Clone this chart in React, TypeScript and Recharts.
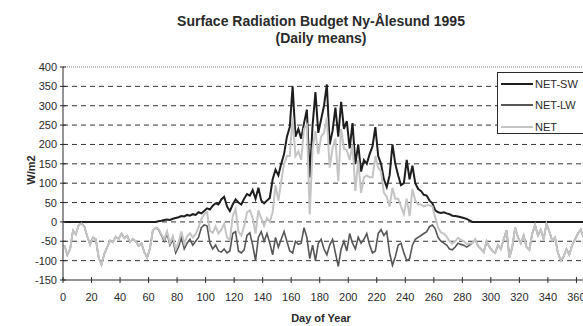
import { LineChart, Line, XAxis, YAxis, ReferenceLine } from "recharts";

// daily means, sampled every second day (day 1, 3, 5 ... 365)
const DAYS = Array.from({ length: 183 }, (_, i) => 2 * i + 1);

// W/m2
const NET_SW = [
  0, 0, 0, 0, 0, 0, 0, 0, 0, 0,
  0, 0, 0, 0, 0, 0, 0, 0, 0, 0,
  0, 0, 0, 0, 0, 0, 0, 0, 0, 0,
  0, 0, 0, 2, 3, 5, 6, 5, 8, 10,
  12, 15, 14, 18, 16, 20, 18, 25, 22, 28,
  35, 32, 42, 48, 45, 58, 65, 40, 28, 45,
  58, 50, 45, 60, 72, 68, 82, 60, 88, 55,
  48, 55, 62, 110, 135, 120, 150, 175, 220, 245,
  350, 220, 240, 215, 255, 290, 115, 250, 335, 230,
  265, 300, 355, 200, 235, 295, 220, 310, 240, 260,
  190, 255, 150, 200, 130, 160, 150, 175, 195, 245,
  170, 150, 110, 90, 120, 200, 150, 120, 95, 100,
  160, 110, 145, 100, 85, 80, 70, 68, 55, 48,
  30, 25, 23, 25, 22, 20, 16, 15, 14, 12,
  10, 8, 4, 0, 0, 0, 0, 0, 0, 0,
  0, 0, 0, 0, 0, 0, 0, 0, 0, 0,
  0, 0, 0, 0, 0, 0, 0, 0, 0, 0,
  0, 0, 0, 0, 0, 0, 0, 0, 0, 0,
  0, 0, 0,
];

const NET_LW = [
  -60, -85, -70, -22, -32, -8, -4, -12, -38, -58,
  -40, -45, -92, -110, -82, -65, -48, -52, -38, -44,
  -30, -42, -36, -52, -44, -50, -62, -55, -78, -92,
  -68, -22, -15, -20, -35, -50, -30, -60, -45, -80,
  -65, -40, -70, -55, -45, -60, -50, -40, -15, -8,
  -10, -55, -70, -60, -75, -78, -70, -80, -75, -30,
  -25, -75, -80, -72, -35, -28, -60, -100, -40, -25,
  -50, -30, -55, -85, -40, -65, -45, -25, -50, -75,
  -80, -50, -58, -55, -15, -40, -95, -60, -100, -55,
  -45, -70, -85, -60, -45, -80, -115, -70, -50, -75,
  -30, -55, -70, -40, -55, -45, -30, -60, -80, -75,
  -30, -20, -35, -25, -80, -112, -90, -60, -55, -80,
  -100, -95, -60, -45, -40, -35, -30, -25, -12, -8,
  -18, -40, -50, -55, -60, -70, -72, -65, -55, -58,
  -60, -65, -60, -55, -45, -62, -70, -78, -50, -65,
  -75, -80, -60, -70, -45, -22, -92, -65, -15, -40,
  -55, -35, -65, -72, -30, -8, -35, -20, -45, -5,
  -25, -48, -40, -80, -100, -90, -70, -85, -60, -45,
  -30, -20, -40,
];

const NET = [
  -60, -85, -70, -22, -32, -8, -4, -12, -38, -58,
  -40, -45, -92, -110, -82, -65, -48, -52, -38, -44,
  -30, -42, -36, -52, -44, -50, -62, -55, -78, -92,
  -68, -22, -15, -18, -32, -45, -24, -55, -37, -70,
  -53, -25, -56, -37, -29, -40, -32, -15, 7, 20,
  25, -23, -28, -12, -30, -20, -5, -40, -47, 15,
  33, -25, -35, -12, 25, 30, 10, -30, 30, 10,
  -10, 10, 0, 25, 95, 55, 105, 150, 170, 170,
  270, 170, 182, 160, 240, 250, 20, 190, 235, 175,
  220, 230, 270, 140, 190, 215, 105, 240, 190, 185,
  160, 200, 80, 160, 75, 115, 120, 115, 115, 170,
  140, 130, 75, 65, 40, 88, 60, 60, 40, 20,
  60, 15, 85, 55, 45, 45, 40, 43, 43, 40,
  12, -15, -27, -30, -38, -50, -56, -50, -41, -46,
  -50, -57, -56, -55, -45, -62, -70, -78, -50, -65,
  -75, -80, -60, -70, -45, -22, -92, -65, -15, -40,
  -55, -35, -65, -72, -30, -8, -35, -20, -45, -5,
  -25, -48, -40, -80, -100, -90, -70, -85, -60, -45,
  -30, -20, -40,
];

const X_TICKS = [0, 20, 40, 60, 80, 100, 120, 140, 160, 180, 200, 220, 240, 260, 280, 300, 320, 340, 360];
const Y_TICKS = [-150, -100, -50, 0, 50, 100, 150, 200, 250, 300, 350, 400];
const GRID_VALUES = [-100, -50, 0, 50, 100, 150, 200, 250, 300, 350];

const SERIES = [
  { key: "sw", name: "NET-SW", color: "#1e1e1e", width: 2 },
  { key: "lw", name: "NET-LW", color: "#565656", width: 1.6 },
  { key: "net", name: "NET", color: "#c4c4c4", width: 2 },
];

const rows = DAYS.map((day, i) => ({ day, sw: NET_SW[i], lw: NET_LW[i], net: NET[i] }));

const FONT = "'Liberation Sans', Arial, sans-serif";
const INK = "#2a2a2a";

function XTick({ x, y, payload }: any) {
  return (
    <g>
      <line x1={x} x2={x} y1={y - 3} y2={y + 3} stroke={INK} />
      <text x={x} y={y + 21} textAnchor="middle" fontSize={11} fill={INK} fontFamily={FONT}>
        {payload.value}
      </text>
    </g>
  );
}

function YTick({ x, y, payload }: any) {
  return (
    <g>
      <line x1={x - 3} x2={x + 3} y1={y} y2={y} stroke={INK} />
      <text x={x - 6} y={y + 4} textAnchor="end" fontSize={11} fill={INK} fontFamily={FONT}>
        {payload.value}
      </text>
    </g>
  );
}

export default function App() {
  return (
    <div
      style={{
        position: "absolute",
        left: 0,
        top: 0,
        width: 583,
        height: 326,
        overflow: "hidden",
        background: "#fff",
        fontFamily: FONT,
        color: INK,
      }}
    >
      <div
        style={{
          position: "absolute",
          left: 121,
          top: 13,
          width: 400,
          textAlign: "center",
          fontSize: 14,
          fontWeight: "bold",
          lineHeight: "17px",
        }}
      >
        Surface Radiation Budget Ny-Ålesund 1995
        <br />
        (Daily means)
      </div>

      <LineChart width={600} height={326} data={rows} margin={{ top: 67, right: 15, bottom: 0, left: 0 }}>
        {GRID_VALUES.map((v) => (
          <ReferenceLine key={v} y={v} stroke="#333" strokeDasharray="5 4" />
        ))}
        <ReferenceLine y={400} stroke="#777" strokeDasharray="1 1" />
        <XAxis
          dataKey="day"
          type="number"
          domain={[0, 366]}
          ticks={X_TICKS}
          interval={0}
          height={46}
          tickSize={0}
          tickMargin={0}
          tickLine={false}
          axisLine={{ stroke: INK }}
          tick={<XTick />}
        />
        <YAxis
          type="number"
          domain={[-150, 400]}
          ticks={Y_TICKS}
          interval={0}
          width={63}
          tickSize={0}
          tickMargin={0}
          tickLine={false}
          axisLine={{ stroke: INK }}
          tick={<YTick />}
        />
        {SERIES.map((s) => (
          <Line
            key={s.key}
            dataKey={s.key}
            name={s.name}
            type="linear"
            stroke={s.color}
            strokeWidth={s.width}
            dot={false}
            isAnimationActive={false}
          />
        ))}
      </LineChart>

      <div
        style={{
          position: "absolute",
          left: 31,
          top: 170,
          transform: "translate(-50%, -50%) rotate(-90deg)",
          fontSize: 11,
          fontWeight: "bold",
          whiteSpace: "nowrap",
        }}
      >
        W/m2
      </div>

      <div
        style={{
          position: "absolute",
          left: 221,
          top: 312,
          width: 200,
          textAlign: "center",
          fontSize: 11,
          fontWeight: "bold",
        }}
      >
        Day of Year
      </div>

      <div
        style={{
          position: "absolute",
          left: 497,
          top: 72,
          width: 90,
          height: 62,
          boxSizing: "border-box",
          border: `1px solid ${INK}`,
          background: "#fff",
          fontSize: 11,
        }}
      >
        {SERIES.map((s, i) => (
          <div
            key={s.key}
            style={{ position: "absolute", left: 0, top: 4 + i * 21.5, height: 13, display: "flex", alignItems: "center" }}
          >
            <span style={{ display: "inline-block", marginLeft: 3, width: 32, height: s.width, background: s.color }} />
            <span style={{ marginLeft: 2 }}>{s.name}</span>
          </div>
        ))}
      </div>
    </div>
  );
}
